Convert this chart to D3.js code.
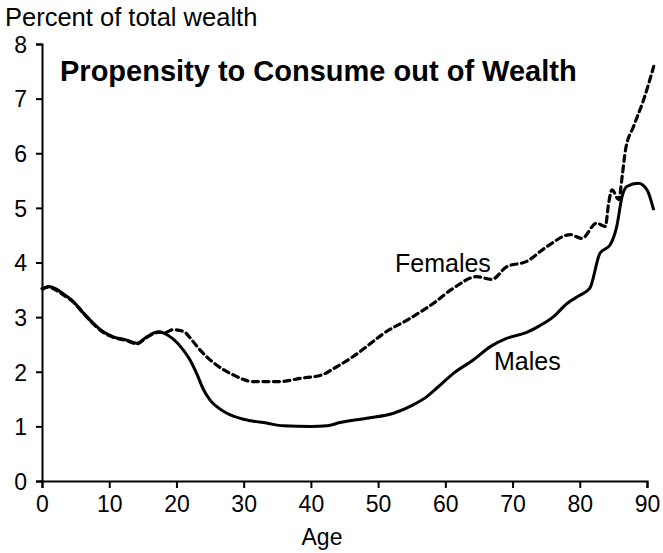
<!DOCTYPE html>
<html>
<head>
<meta charset="utf-8">
<script src="https://cdn.jsdelivr.net/npm/d3@7"></script>
<style>
  html, body { margin: 0; padding: 0; background: #fff; }
  svg { display: block; font-family: "Liberation Sans", Arial, Helvetica, sans-serif; }
</style>
</head>
<body>
<svg id="chart" width="663" height="553"></svg>
<script>
// ---- data ----
const xTicks = [0, 10, 20, 30, 40, 50, 60, 70, 80, 90];
const yTicks = [0, 1, 2, 3, 4, 5, 6, 7, 8];

const maleAge = [0, 1, 2, 3, 4.7, 6, 7.6, 9, 10.6, 12.6, 14.1, 15.6, 17.3, 18.3, 19.5, 21, 22, 23, 24, 25, 26, 27.5, 30, 33.4, 35.9, 40, 42.4, 44.3, 48.3, 52.3, 55, 57.2, 59, 61.2, 64.2, 66.7, 69.1, 72.1, 74, 76.1, 78.1, 80, 81.5, 83, 84.5, 85.5, 86.3, 87, 88.7, 90, 91];
const maleVal = [3.50, 3.56, 3.52, 3.44, 3.28, 3.10, 2.89, 2.74, 2.64, 2.58, 2.52, 2.64, 2.73, 2.70, 2.60, 2.40, 2.22, 1.97, 1.68, 1.48, 1.36, 1.24, 1.13, 1.06, 1.01, 1.00, 1.01, 1.07, 1.15, 1.24, 1.38, 1.54, 1.73, 1.97, 2.22, 2.46, 2.61, 2.72, 2.84, 3.01, 3.25, 3.40, 3.53, 4.17, 4.32, 4.66, 5.21, 5.39, 5.45, 5.33, 4.96];

const femaleAge = [0, 1, 2, 3, 4.7, 6, 7.6, 9, 10.6, 12.6, 14.1, 15.6, 17.3, 18.3, 19.5, 21, 22.5, 23.5, 24.7, 26, 28.5, 31.4, 35.4, 38.4, 41.6, 43.4, 46.3, 48.6, 50.8, 54.8, 58.2, 61.2, 64.7, 66.9, 69.1, 72.1, 75.1, 78.6, 80.3, 82.5, 83.8, 84.3, 84.8, 85.8, 86.3, 86.8, 88.0, 89.5, 91];
const femaleVal = [3.52, 3.55, 3.50, 3.42, 3.27, 3.09, 2.88, 2.73, 2.63, 2.57, 2.51, 2.63, 2.72, 2.72, 2.77, 2.74, 2.55, 2.40, 2.25, 2.12, 1.94, 1.82, 1.82, 1.88, 1.94, 2.06, 2.28, 2.49, 2.70, 2.98, 3.25, 3.53, 3.74, 3.69, 3.92, 4.02, 4.29, 4.51, 4.44, 4.72, 4.66, 5.09, 5.33, 5.15, 5.57, 6.06, 6.49, 6.98, 7.59];

// ---- chart ----
const svg = d3.select("#chart");
const x = d3.scaleLinear().domain([0, 90]).range([42, 647]);
const y = d3.scaleLinear().domain([0, 8]).range([481, 44]);

const line = d3.line()
  .x(d => x(d[0]))
  .y(d => y(d[1]))
  .curve(d3.curveMonotoneX);

// axes
const xAxis = svg.append("g")
  .attr("transform", `translate(0,${y(0)})`)
  .call(d3.axisBottom(x).tickValues(xTicks).tickSize(7).tickPadding(6).tickFormat(d3.format("d")));
const yAxis = svg.append("g")
  .attr("transform", `translate(${x(0)},0)`)
  .call(d3.axisLeft(y).tickValues(yTicks).tickSize(6).tickPadding(9).tickFormat(d3.format("d")));

[xAxis, yAxis].forEach(g => {
  g.select(".domain").attr("stroke", "#000").attr("stroke-width", 2);
  g.selectAll(".tick line").attr("stroke", "#000").attr("stroke-width", 2);
  g.selectAll(".tick text")
    .attr("fill", "#000")
    .style("font-family", '"Liberation Sans", Arial, Helvetica, sans-serif')
    .style("font-size", "23px");
});
xAxis.selectAll(".tick text").attr("dy", "0.78em");
yAxis.selectAll(".tick text").attr("dy", "0.36em");

// female (dashed)
svg.append("path")
  .datum(femaleAge.map((a, i) => [a, femaleVal[i]]))
  .attr("fill", "none")
  .attr("stroke", "#000")
  .attr("stroke-width", 3.2)
  .attr("stroke-dasharray", "6,4.5")
  .attr("stroke-linecap", "round")
  .attr("d", line);

// male (solid)
svg.append("path")
  .datum(maleAge.map((a, i) => [a, maleVal[i]]))
  .attr("fill", "none")
  .attr("stroke", "#000")
  .attr("stroke-width", 3)
  .attr("stroke-linejoin", "round")
  .attr("d", line);

// texts
svg.append("text").attr("x", 5).attr("y", 26)
  .style("font-size", "25.5px").attr("fill", "#000")
  .text("Percent of total wealth");

svg.append("text").attr("x", 60).attr("y", 81)
  .style("font-size", "29px").style("font-weight", "bold").attr("fill", "#000")
  .text("Propensity to Consume out of Wealth");

svg.append("text").attr("x", 395).attr("y", 272)
  .style("font-size", "25px").attr("fill", "#000")
  .text("Females");

svg.append("text").attr("x", 494).attr("y", 370)
  .style("font-size", "25px").attr("fill", "#000")
  .text("Males");

svg.append("text").attr("x", 322).attr("y", 545)
  .attr("text-anchor", "middle")
  .style("font-size", "23px").attr("fill", "#000")
  .text("Age");
</script>
</body>
</html>
